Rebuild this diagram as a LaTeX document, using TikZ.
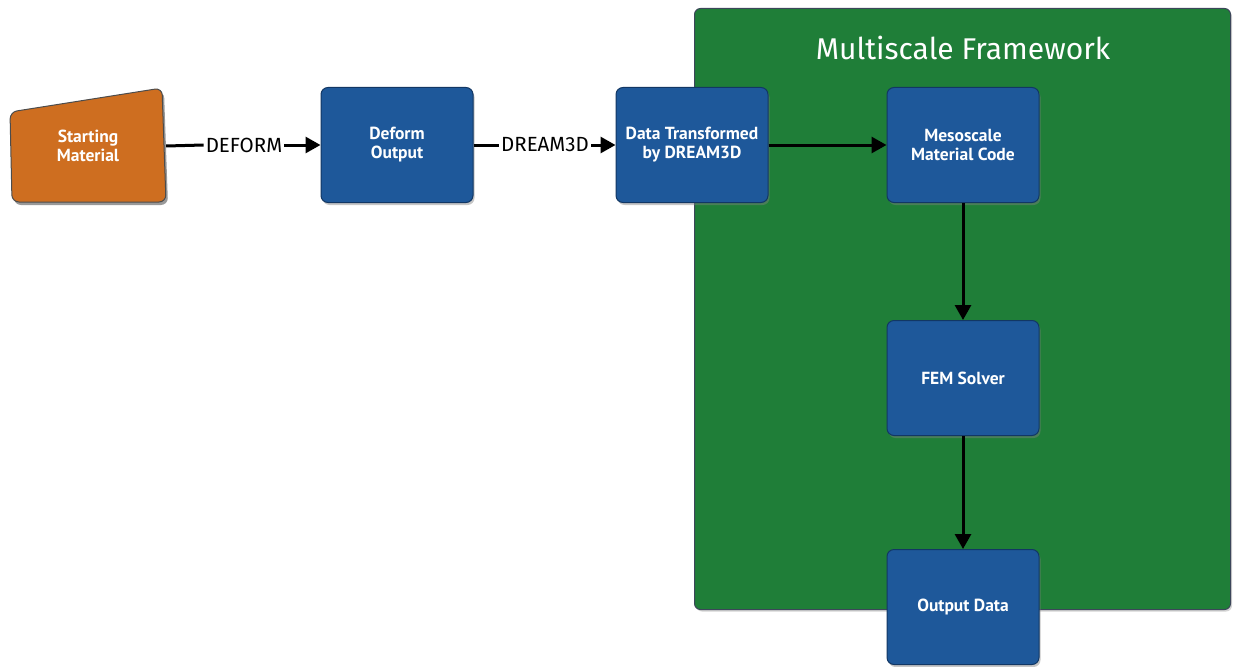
\documentclass[tikz,border=0pt]{standalone}
\usepackage{fontspec}
\setmainfont{Fira Sans}
\newfontfamily\boxfont{PT Sans}
\usetikzlibrary{arrows.meta,shadows,backgrounds}
\definecolor{boxblue}{RGB}{30,88,154}
\definecolor{boxblueedge}{RGB}{18,55,100}
\definecolor{framegreen}{RGB}{31,126,56}
\definecolor{frameedge}{RGB}{60,70,90}
\definecolor{startorange}{RGB}{206,110,32}
\tikzset{
  bluebox/.style={rectangle, rounded corners=7pt, fill=boxblue, draw=boxblueedge, line width=1pt,
    minimum width=152pt, minimum height=115pt, text=white, align=center,
    font=\boxfont\bfseries\fontsize{17.5}{19}\selectfont,
    drop shadow={opacity=0.45, shadow xshift=1.5pt, shadow yshift=-2.5pt}},
  flow/.style={line width=3pt, -{Triangle[length=15pt,width=16pt]}},
  plainline/.style={line width=3pt},
  lbl/.style={font=\fontsize{20.5}{22}\selectfont, inner sep=2pt}
}
\begin{document}
\begin{tikzpicture}[x=1pt,y=-1pt]
\useasboundingbox (0,0) rectangle (1233,666);
% green framework
\node[rectangle, rounded corners=6pt, fill=framegreen, draw=frameedge, line width=1pt,
  minimum width=536pt, minimum height=601pt, anchor=north west,
  drop shadow={opacity=0.35, shadow xshift=1.5pt, shadow yshift=-2pt}] (frame) at (694,8) {};
\node[text=white, font=\fontsize{30}{32}\selectfont] (title) at (963,48) {Multiscale Framework};
% starting material trapezoid
\fill[black, opacity=0.4, rounded corners=7pt] (12,115) -- (164,91) -- (168,205) -- (14,205) -- cycle;
\draw[fill=startorange, draw=black!70, line width=1pt, rounded corners=7pt] (10,112) -- (162,88) -- (166,202) -- (12,202) -- cycle;
\node[text=white, align=center, font=\boxfont\bfseries\fontsize{17.5}{19}\selectfont, minimum width=156pt, minimum height=114pt] (start) at (88,146) {Starting\\Material};
% blue boxes
\node[bluebox] (deform) at (397,145) {Deform\\Output};
\node[bluebox] (dream) at (692,145) {Data Transformed\\by DREAM3D};
\node[bluebox] (meso) at (963,145) {Mesoscale\\Material Code};
\node[bluebox] (fem) at (963,378) {FEM Solver};
\node[bluebox] (out) at (963,607) {Output Data};
% labels
\node[lbl] (l1) at (244,145) {DEFORM};
\node[lbl] (l2) at (545,145) {DREAM3D};
% connectors
\draw[plainline] (start.east) -- (l1.west);
\draw[flow] (l1.east) -- (deform.west);
\draw[plainline] (deform.east) -- (l2.west);
\draw[flow] (l2.east) -- (dream.west);
\draw[flow] (dream.east) -- (meso.west);
\draw[flow] (meso.south) -- (fem.north);
\draw[flow] (fem.south) -- (out.north);
\end{tikzpicture}
\end{document}
